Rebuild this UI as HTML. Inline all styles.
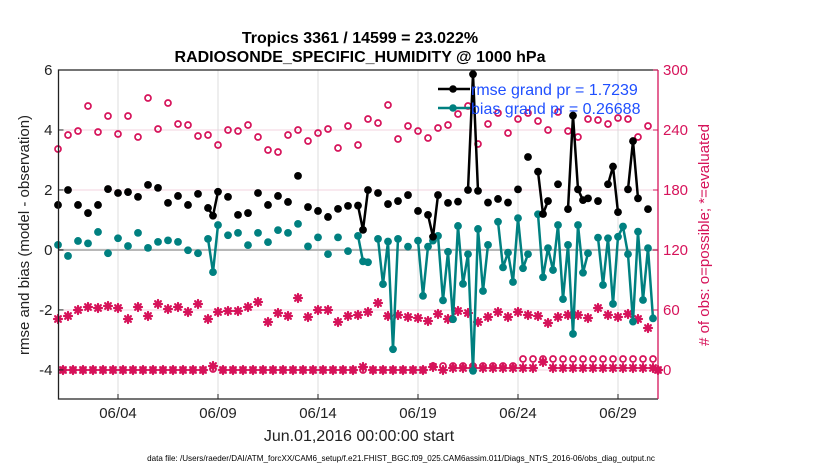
<!DOCTYPE html>
<html><head><meta charset="utf-8"><style>
html,body{margin:0;padding:0;background:#fff;}
svg{display:block;font-family:"Liberation Sans",sans-serif;}
</style></head><body>
<svg id="chart" width="830" height="470" viewBox="0 0 830 470" xmlns="http://www.w3.org/2000/svg">
<rect width="830" height="470" fill="#fff"/>
<text x="360" y="43" text-anchor="middle" font-size="16" font-weight="bold">Tropics 3361 / 14599 = 23.022%</text>
<text x="360" y="62" text-anchor="middle" font-size="16" font-weight="bold">RADIOSONDE_SPECIFIC_HUMIDITY @ 1000 hPa</text>
<g id="grid"></g>
<g id="marks"></g>
<g id="axes"></g>
<text transform="translate(29,235) rotate(-90)" text-anchor="middle" font-size="15" fill="#222">rmse and bias (model - observation)</text>
<text transform="translate(709,235) rotate(-90)" text-anchor="middle" font-size="15" fill="#d6135a"># of obs: o=possible; *=evaluated</text>
<text x="359" y="441" text-anchor="middle" font-size="16" fill="#222">Jun.01,2016 00:00:00 start</text>
<text x="401" y="461" text-anchor="middle" font-size="8.1" fill="#000">data file: /Users/raeder/DAI/ATM_forcXX/CAM6_setup/f.e21.FHIST_BGC.f09_025.CAM6assim.011/Diags_NTrS_2016-06/obs_diag_output.nc</text>
<g>
<line x1="438" y1="89" x2="470" y2="89" stroke="#000" stroke-width="2.5"/>
<circle cx="453" cy="89" r="3.8" fill="#000"/>
<line x1="438" y1="108" x2="470" y2="108" stroke="#008080" stroke-width="2.5"/>
<circle cx="453" cy="108" r="3.8" fill="#008080"/>
<text x="471" y="95" font-size="16" fill="#1f4fff">rmse grand pr = 1.7239</text>
<text x="471" y="114" font-size="16" fill="#1f4fff">bias grand pr = 0.26688</text>
</g>
</svg>
<script>
const N = null;
const tickDays = [4, 9, 14, 19, 24, 29];
const tickLabels = ["06/04", "06/09", "06/14", "06/19", "06/24", "06/29"];
const leftTicks = [-4, -2, 0, 2, 4, 6];
const rightTicks = [0, 60, 120, 180, 240, 300];
const rmse = [1.5,N,2.0,N,1.5,N,1.23,N,1.5,N,2.03,N,1.9,N,1.93,N,1.77,N,2.17,N,2.07,N,1.57,N,1.8,N,1.5,N,1.87,N,
1.4,1.14,1.94,N,1.77,N,1.17,N,1.23,N,1.9,N,1.5,N,1.8,N,1.6,N,2.47,N,1.43,N,1.3,N,1.1,N,1.37,N,1.47,N,
1.48,0.67,2.0,N,1.9,N,1.53,N,1.63,N,1.83,N,1.3,N,1.17,0.44,1.83,N,1.57,N,1.61,N,2.0,5.86,1.97,N,1.58,N,1.7,N,
1.58,N,2.02,N,3.1,N,2.61,1.2,1.63,N,2.19,N,1.36,4.48,2.02,1.66,1.72,N,1.63,N,2.19,2.78,1.26,N,2.02,3.63,1.72,N,1.36,N,N];
const bias = [0.17,N,-0.2,N,0.3,N,0.22,N,0.6,N,-0.11,N,0.39,N,0.13,N,0.57,N,0.07,N,0.27,N,0.32,N,0.27,N,-0.01,N,-0.11,N,
0.37,-0.74,0.83,N,0.49,N,0.57,N,0.16,N,0.57,N,0.26,N,0.66,N,0.57,N,0.87,N,0.12,N,0.42,N,-0.14,N,0.42,N,-0.04,N,
0.47,-0.38,-0.41,N,0.37,-1.14,0.28,-3.31,0.37,N,0.11,N,0.31,-1.53,0.11,0.31,0.47,-1.68,-0.06,-2.31,0.8,-1.13,-0.14,-4.03,0.7,-1.37,0.17,N,0.94,-0.58,
-0.09,-1.07,1.06,-0.61,-0.14,N,1.19,-0.91,0.06,-0.67,0.83,-1.64,0.17,-2.8,0.83,-0.76,-0.11,N,0.41,-1.17,0.39,-1.8,0.44,0.78,-0.14,-2.39,0.61,-1.67,0.06,-2.28,N];
const possible = [221,0,235,0,239,0,264,0,238,0,254,0,236,0,254,0,233,0,272,0,241,0,267,0,246,0,245,0,234,0,
235,1,225,0,240,0,239,0,245,0,233,0,220,0,218,0,235,0,240,0,229,0,237,0,241,0,222,0,244,0,
225,0,251,0,247,0,265,0,231,0,244,0,239,0,232,4,242,4,245,4,256,4,264,4,226,4,246,4,257,4,
237,4,251,11,257,11,249,11,240,11,258,11,239,11,233,11,251,11,250,11,246,11,252,11,251,11,233,11,244,11,0];
const evaluated = [51,0,54,0,60,0,63,0,62,0,64,0,62,0,51,0,63,0,54,0,66,0,61,0,63,0,58,0,66,0,
51,4,58,0,59,0,59,0,63,0,68,0,48,0,57,0,54,0,72,0,53,0,60,0,60,0,48,0,54,0,
55,3,58,0,67,0,54,0,55,0,53,0,52,0,49,3,56,0,51,2,59,2,57,2,48,2,53,2,58,2,
53,2,58,2,55,2,54,8,47,2,53,2,55,2,55,2,52,2,62,2,55,2,53,2,56,2,51,2,42,2,0];

const L = 58.5, R = 658, T = 70, B = 399;
const ymin = -4.97, ymax = 6, rmin = -29, rmax = 300;
function xOf(k){ return 58 + 5 * k; }
function xDay(d){ return xOf((d - 1) * 4); }
function yL(v){ return T + (ymax - v) / (ymax - ymin) * (B - T); }
function yR(n){ return T + (rmax - n) / (rmax - rmin) * (B - T); }
const NS = "http://www.w3.org/2000/svg";
function mk(tag, attrs, parent){ const e = document.createElementNS(NS, tag); for (const a in attrs) e.setAttribute(a, attrs[a]); parent.appendChild(e); return e; }
const grid = document.getElementById("grid"), marks = document.getElementById("marks"), axes = document.getElementById("axes");
const PINK = "#d6135a", TEAL = "#008080";

rightTicks.forEach(n => {
  const g = mk("line", {x1:L, x2:R, y1:yR(n), y2:yR(n), stroke:"#f3d3df", "stroke-width":1}, grid);
  
  
});
tickDays.forEach(d => {
  const g = mk("line", {x1:xDay(d), x2:xDay(d), y1:T, y2:B, stroke:"#dcdcdc", "stroke-width":1}, grid);
  
  
});
const zl = mk("line", {x1:L, x2:R, y1:yL(0), y2:yL(0), stroke:"#b8b8b8", "stroke-width":2.2}, grid);



function star(cx, cy, parent){
  const g = mk("g", {stroke:PINK, "stroke-width":2.2, "stroke-linecap":"round"}, parent);
  
  
  const s = 4;
  mk("line", {x1:cx - s, y1:cy, x2:cx + s, y2:cy}, g);
  mk("line", {x1:cx, y1:cy - s, x2:cx, y2:cy + s}, g);
  mk("line", {x1:cx - s*0.72, y1:cy - s*0.72, x2:cx + s*0.72, y2:cy + s*0.72}, g);
  mk("line", {x1:cx - s*0.72, y1:cy + s*0.72, x2:cx + s*0.72, y2:cy - s*0.72}, g);
}
evaluated.forEach((n, k) => { if (n !== null) star(xOf(k), yR(n), marks); });
possible.forEach((n, k) => {
  if (n === null) return;
  const c = mk("circle", {cx:xOf(k), cy:yR(n), r:3, fill:"none", stroke:PINK, "stroke-width":1.7}, marks);
  
  
});

function series(arr, color, name){
  let d = "";
  for (let k = 0; k < arr.length; k++) {
    if (arr[k] === null) continue;
    const prev = k > 0 && arr[k-1] !== null;
    d += (prev ? "L" : "M") + xOf(k).toFixed(1) + "," + yL(arr[k]).toFixed(1);
  }
  const p = mk("path", {d:d, fill:"none", stroke:color, "stroke-width":2.5, "stroke-linejoin":"round"}, marks);
  
  
  arr.forEach((v, k) => {
    if (v === null) return;
    const c = mk("circle", {cx:xOf(k), cy:yL(v), r:3.9, fill:color}, marks);
    
    
  });
}
series(bias, TEAL, "bias");
series(rmse, "#000", "rmse");

const lax = mk("path", {d:`M${R},${T}H${L}V${B}H${R}`, fill:"none", stroke:"#222", "stroke-width":1.3}, axes);


const rax = mk("line", {x1:R, x2:R, y1:T, y2:B, stroke:PINK, "stroke-width":1.3}, axes);


leftTicks.forEach(v => {
  mk("line", {x1:L, x2:L + 5, y1:yL(v), y2:yL(v), stroke:"#222"}, axes);
  const t = mk("text", {x:L - 6, y:yL(v) + 5, "text-anchor":"end", "font-size":15, fill:"#222"}, axes);
  t.textContent = v;
  
  
});
rightTicks.forEach(n => {
  mk("line", {x1:R - 5, x2:R, y1:yR(n), y2:yR(n), stroke:PINK}, axes);
  const t = mk("text", {x:R + 5, y:yR(n) + 5, "font-size":15, fill:PINK}, axes);
  t.textContent = n;
  
  
});
tickDays.forEach((d, i) => {
  mk("line", {x1:xDay(d), x2:xDay(d), y1:B, y2:B - 5, stroke:"#222"}, axes);
  const t = mk("text", {x:xDay(d), y:B + 19, "text-anchor":"middle", "font-size":15, fill:"#222"}, axes);
  t.textContent = tickLabels[i];
  
  
});
</script>
</body></html>
